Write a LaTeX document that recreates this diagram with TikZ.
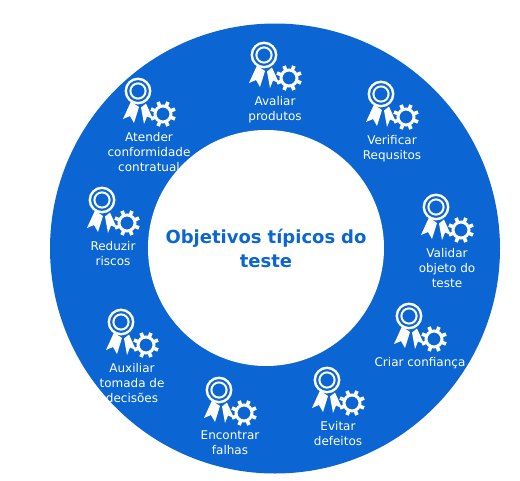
\documentclass[tikz,border=0pt]{standalone}
\usepackage{fontspec}
\setmainfont{DejaVu Sans}
\usepackage{xcolor}
\usetikzlibrary{positioning}
\definecolor{azulanel}{HTML}{0B66D3}

\tikzset{
	premio/.pic={
		% Roseta
		\draw[white, line width=2.4pt] (0,0) circle[radius=12.2];
		\draw[white, line width=2pt] (0,0) circle[radius=7.6];
		% Fitas
		\fill[white] (-7,10.5) -- (-15,28) -- (-8,25) -- (-4,32) -- (1,16) -- cycle;
		\fill[white] (3,16.5) -- (8,12.5) -- (15,28) -- (9,25.5) -- (6,33) -- cycle;
		% Engrenagem
		\draw[white, line width=3pt] (25,23) circle[radius=8];
		\foreach \ang in {0,45,...,315}
			\draw[white, line width=3.6pt] (25,23) ++(\ang+22.5:9) -- ++(\ang+22.5:4);
		\coordinate (-base) at (11,41);
	}
}

\begin{document}
\begin{tikzpicture}[
		x=1pt, y=-1pt,
		% Estilos
		anel/.style={circle, fill=azulanel, minimum size=450pt, inner sep=0pt},
		miolo/.style={circle, fill=white, minimum size=236pt, inner sep=0pt, align=center, text width=232pt, font=\fontsize{18}{24}\selectfont\bfseries, text=azulanel},
		rotulo/.style={align=center, inner sep=0pt, text=white, font=\fontsize{12}{15}\selectfont}
	]
	\useasboundingbox (0,0) rectangle (520,480);
	% Anel externo
	\node[anel] (anel) at (275,248.5) {};
	% Icones
	\pic (avaliar) at (264,55) {premio};
	\pic (verificar) at (381,94) {premio};
	\pic (validar) at (436,207) {premio};
	\pic (criar) at (409,316) {premio};
	\pic (evitar) at (327,380) {premio};
	\pic (encontrar) at (219,390) {premio};
	\pic (auxiliar) at (121,322) {premio};
	\pic (reduzir) at (102,200) {premio};
	\pic (atender) at (138,91) {premio};
	% Rotulos
	\node[rotulo, below=0pt of avaliar-base] (t_avaliar) {Avaliar\\produtos};
	\node[rotulo, below=0pt of verificar-base] (t_verificar) {Verificar\\Requsitos};
	\node[rotulo, below=0pt of validar-base] (t_validar) {Validar\\objeto do\\teste};
	\node[rotulo, below=0pt of criar-base] (t_criar) {Criar confiança};
	\node[rotulo, below=0pt of evitar-base] (t_evitar) {Evitar\\defeitos};
	\node[rotulo, below=0pt of encontrar-base] (t_encontrar) {Encontrar\\falhas};
	\node[rotulo, below=0pt of auxiliar-base] (t_auxiliar) {Auxiliar\\tomada de\\decisões};
	\node[rotulo, below=0pt of reduzir-base] (t_reduzir) {Reduzir\\riscos};
	\node[rotulo, below=0pt of atender-base] (t_atender) {Atender\\conformidade\\contratual};
	% Centro
	\node[miolo] (titulo) at (266,248) {Objetivos típicos do\\teste};
\end{tikzpicture}
\end{document}
